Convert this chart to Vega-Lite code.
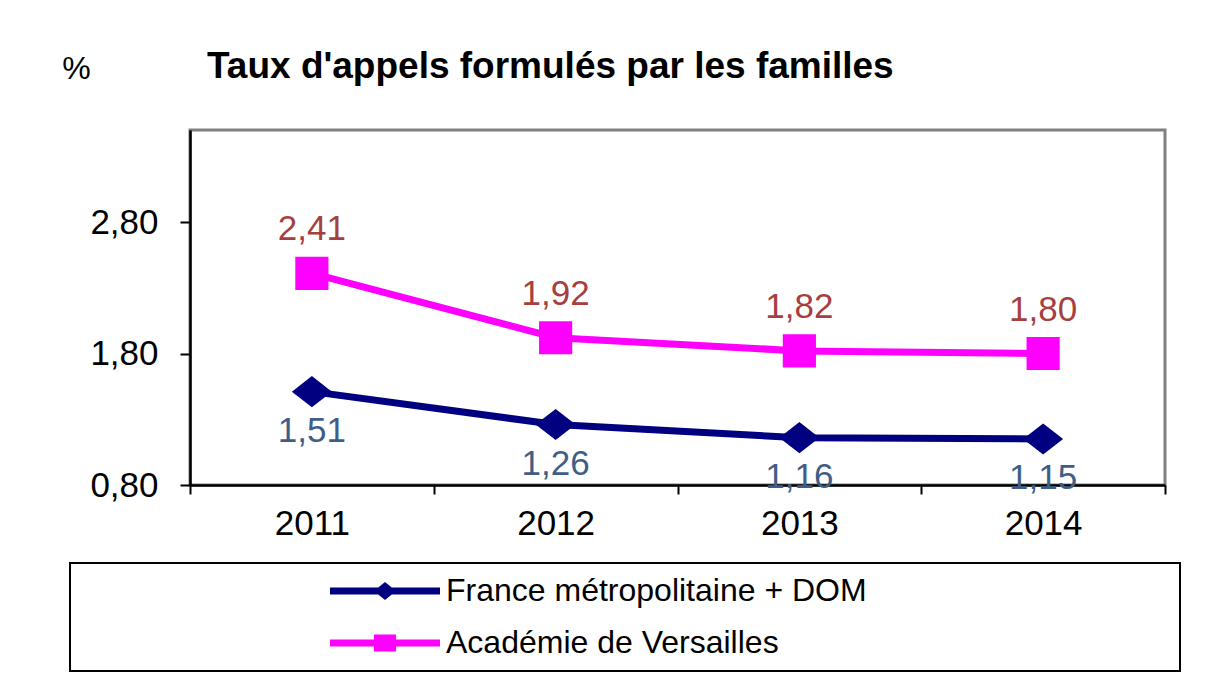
{
  "$schema": "https://vega.github.io/schema/vega-lite/v6.json",
  "width": 975,
  "height": 355,
  "autosize": {"type": "none"},
  "padding": {"left": 190, "top": 130, "right": 47, "bottom": 196},
  "background": "white",
  "title": {
    "text": "Taux d'appels formulés par les familles",
    "anchor": "start",
    "frame": "group",
    "dx": 17,
    "offset": -34,
    "font": "Liberation Sans",
    "fontSize": 37,
    "fontWeight": "bold",
    "color": "black"
  },
  "config": {
    "view": {"stroke": "#808080", "strokeWidth": 3},
    "font": "Liberation Sans"
  },
  "data": {
    "values": [
      {"year": "2011", "series": "France métropolitaine + DOM", "value": 1.51},
      {"year": "2012", "series": "France métropolitaine + DOM", "value": 1.26},
      {"year": "2013", "series": "France métropolitaine + DOM", "value": 1.16},
      {"year": "2014", "series": "France métropolitaine + DOM", "value": 1.15},
      {"year": "2011", "series": "Académie de Versailles", "value": 2.41},
      {"year": "2012", "series": "Académie de Versailles", "value": 1.92},
      {"year": "2013", "series": "Académie de Versailles", "value": 1.82},
      {"year": "2014", "series": "Académie de Versailles", "value": 1.80}
    ]
  },
  "transform": [
    {"calculate": "replace(format(datum.value, '.2f'), '.', ',')", "as": "label"}
  ],
  "encoding": {
    "x": {
      "field": "year",
      "type": "ordinal",
      "scale": {"type": "band", "paddingInner": 0, "paddingOuter": 0},
      "axis": {
        "title": null,
        "labelAngle": 0,
        "tickBand": "extent",
        "labelFont": "Liberation Sans",
        "labelFontSize": 35,
        "labelColor": "black",
        "labelPadding": 12,
        "tickSize": 9,
        "tickWidth": 2,
        "tickColor": "black",
        "domainColor": "black",
        "domainWidth": 2.5,
        "grid": false
      }
    },
    "y": {
      "field": "value",
      "type": "quantitative",
      "scale": {"domain": [0.8, 3.5], "nice": false, "zero": false},
      "axis": {
        "title": "%",
        "titleAngle": 0,
        "titleX": -114,
        "titleY": -62,
        "titleAlign": "center",
        "titleBaseline": "middle",
        "titleFont": "Liberation Sans",
        "titleFontSize": 32,
        "titleFontWeight": "normal",
        "titleColor": "black",
        "values": [0.8, 1.8, 2.8],
        "labelExpr": "replace(format(datum.value, '.2f'), '.', ',')",
        "labelFont": "Liberation Sans",
        "labelFontSize": 35,
        "labelColor": "black",
        "labelPadding": 22,
        "tickSize": 10,
        "tickWidth": 2,
        "tickColor": "black",
        "domainColor": "black",
        "domainWidth": 2.5,
        "grid": false
      }
    }
  },
  "layer": [
    {
      "mark": {"type": "line", "strokeWidth": 7, "strokeCap": "round", "strokeJoin": "round"},
      "encoding": {
        "color": {
          "field": "series",
          "type": "nominal",
          "sort": ["France métropolitaine + DOM", "Académie de Versailles"],
          "scale": {"domain": ["France métropolitaine + DOM", "Académie de Versailles"], "range": ["#000080", "#FF00FF"]},
          "legend": {
            "title": null,
            "orient": "none",
            "legendX": -120,
            "legendY": 433,
            "direction": "vertical",
            "strokeColor": "black",
            "fillColor": "white",
            "padding": 12,
            "cornerRadius": 0,
            "symbolSize": 784,
            "symbolOffset": 287,
            "labelOffset": 45,
            "labelFont": "Liberation Sans",
            "labelFontSize": 32,
            "labelColor": "black",
            "labelLimit": 800,
            "rowPadding": 20,
            "encode": {
              "legend": {"update": {"strokeWidth": {"value": 2}}},
              "symbols": {
                "update": {
                  "shape": {"signal": "datum.value === 'Académie de Versailles' ? 'M-3.93,-0.25H3.93V0.25H-3.93Z M-0.79,-0.61H0.79V0.61H-0.79Z M55.9,0' : 'M-3.93,-0.25H3.93V0.25H-3.93Z M-0.79,0L0,-0.64L0.79,0L0,0.64Z M55.9,0'"},
                  "fill": {"signal": "datum.value === 'Académie de Versailles' ? '#FF00FF' : '#000080'"},
                  "stroke": {"value": "transparent"},
                  "strokeWidth": {"value": 0},
                  "opacity": {"value": 1},
                  "fillOpacity": {"value": 1}
                }
              }
            }
          }
        }
      }
    },
    {
      "transform": [{"filter": "datum.series === 'France métropolitaine + DOM'"}],
      "mark": {"type": "point", "filled": true, "opacity": 1, "strokeWidth": 0, "color": "#000080", "shape": "M-1,0L0,-0.78L1,0L0,0.78Z", "size": 1600}
    },
    {
      "transform": [{"filter": "datum.series === 'Académie de Versailles'"}],
      "mark": {"type": "point", "filled": true, "opacity": 1, "strokeWidth": 0, "color": "#FF00FF", "shape": "square", "size": 1100}
    },
    {
      "transform": [{"filter": "datum.series === 'Académie de Versailles'"}],
      "mark": {"type": "text", "dy": -33, "baseline": "alphabetic", "align": "center", "font": "Liberation Sans", "fontSize": 35, "color": "#A5403E"},
      "encoding": {"text": {"field": "label"}}
    },
    {
      "transform": [{"filter": "datum.series === 'France métropolitaine + DOM'"}],
      "mark": {"type": "text", "dy": 50, "baseline": "alphabetic", "align": "center", "font": "Liberation Sans", "fontSize": 35, "color": "#3E5E88"},
      "encoding": {"text": {"field": "label"}}
    }
  ]
}
